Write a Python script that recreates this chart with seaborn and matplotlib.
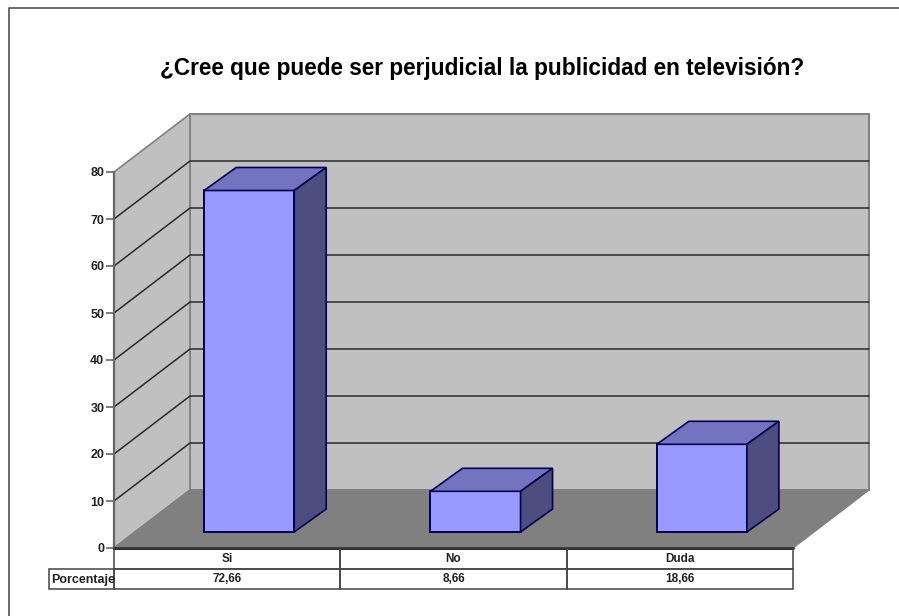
import matplotlib
matplotlib.use('Agg')
import matplotlib.pyplot as plt
import seaborn as sns
from matplotlib.patches import Polygon, Rectangle
from matplotlib.transforms import Affine2D

categories = ['Si', 'No', 'Duda']
valores = [72.66, 8.66, 18.66]
etiquetas = ['72,66', '8,66', '18,66']
ticks = [0, 10, 20, 30, 40, 50, 60, 70, 80]
titulo = '¿Cree que puede ser perjudicial la publicidad en televisión?'

W, H = 899, 616

sns.set_theme(style='white')
plt.rcParams['font.family'] = ['Liberation Sans', 'DejaVu Sans']

fig = plt.figure(figsize=(W / 100, H / 100), dpi=100, facecolor='white')
# front plane of the 3D box, in pixels
x0, x1, y0, y1 = 114, 793, 548, 172
ax = fig.add_axes([x0 / W, 1 - y0 / H, (x1 - x0) / W, (y0 - y1) / H])
ax.set_facecolor('none')

sns.barplot(x=categories, y=valores, width=0.398, color='#9999ff', saturation=1,
            edgecolor='#000050', linewidth=1.4, ax=ax, zorder=5)
ax.set_xlim(-0.5, 2.5)
ax.set_ylim(0, 80)
ax.set_xlabel('')
ax.set_ylabel('')
ax.set_xticks([])
ax.set_yticks(ticks)
ax.set_yticklabels([str(t) for t in ticks], fontsize=9, fontweight='bold', color='#222222')
ax.tick_params(axis='y', length=6, width=1.2, color='#666666', pad=1, left=True)
for s in ax.spines.values():
    s.set_visible(False)

base = ax.transData
wt = base + Affine2D().translate(76, 58)

# back wall, side wall and floor
ax.add_patch(Polygon([(-0.5, 0), (2.5, 0), (2.5, 80), (-0.5, 80)], closed=True, transform=wt,
                     facecolor='#c0c0c0', edgecolor='#808080', lw=1.4, zorder=1, clip_on=False))
side = [base.transform((-0.5, 0)), base.transform((-0.5, 80)),
        wt.transform((-0.5, 80)), wt.transform((-0.5, 0))]
ax.add_patch(Polygon(side, closed=True, transform=None, facecolor='#c0c0c0',
                     edgecolor='#808080', lw=1.2, zorder=1, clip_on=False))
floor = [base.transform((-0.5, 0)), base.transform((2.5, 0)),
         wt.transform((2.5, 0)), wt.transform((-0.5, 0))]
ax.add_patch(Polygon(floor, closed=True, transform=None, facecolor='#808080',
                     edgecolor='#808080', lw=1, zorder=2, clip_on=False))

# gridlines run along the side wall and the back wall
for t in ticks[1:-1]:
    a = base.transform((-0.5, t))
    b = wt.transform((-0.5, t))
    c = wt.transform((2.5, t))
    ax.plot([a[0], b[0], c[0]], [a[1], b[1], c[1]], transform=None, color='#2a2a2a', lw=1.1,
            zorder=3, clip_on=False)
ax.plot([-0.5, -0.5], [0, 80], color='#666666', lw=1.6, zorder=4, clip_on=False)
ax.plot([-0.5, 2.5], [0, 0], color='#111111', lw=2, zorder=4, clip_on=False)

# push bars back into the floor and add top and side faces
depth_dx, depth_dy = 32, 23
bt = base + Affine2D().translate(22, 16)
for bar in ax.containers[0]:
    bar.set_transform(bt)
    bar.set_clip_on(False)
    xa, xb = bar.get_x(), bar.get_x() + bar.get_width()
    top = bar.get_height()
    p1 = bt.transform((xa, top))
    p2 = bt.transform((xb, top))
    p3 = bt.transform((xb, 0))
    top_face = [p1, p2, p2 + (depth_dx, depth_dy), p1 + (depth_dx, depth_dy)]
    side_face = [p3, p2, p2 + (depth_dx, depth_dy), p3 + (depth_dx, depth_dy)]
    ax.add_patch(Polygon(top_face, closed=True, transform=None, facecolor='#7373bf',
                         edgecolor='#000050', lw=1.2, zorder=5, clip_on=False))
    ax.add_patch(Polygon(side_face, closed=True, transform=None, facecolor='#4d4d80',
                         edgecolor='#000050', lw=1.2, zorder=5, clip_on=False))

# data table under the plot
for i, (cat, lab) in enumerate(zip(categories, etiquetas)):
    for j, txt in enumerate([cat, lab]):
        yy = 548 + 20.5 * j
        xl = x0 + 226.33 * i
        fig.add_artist(Rectangle((xl / W, 1 - (yy + 20.5) / H), 226.33 / W, 20.5 / H,
                                 transform=fig.transFigure, facecolor='none',
                                 edgecolor='#444444', lw=1.1))
        fig.text((xl + 113.2) / W, 1 - (yy + 11) / H, txt, ha='center', va='center',
                 fontsize=8.5, fontweight='bold', color='#222222')
fig.add_artist(Rectangle((49 / W, 1 - 589 / H), 65 / W, 20 / H, transform=fig.transFigure,
                         facecolor='none', edgecolor='#444444', lw=1.1))
fig.text(51 / W, 1 - 580 / H, 'Porcentaje', ha='left', va='center', fontsize=9,
         fontweight='bold', color='#222222')

fig.text(482.5 / W, 1 - 68 / H, titulo, ha='center', va='center', fontsize=16.3,
         fontweight='bold', color='black')

# outer frame
fig.add_artist(plt.Line2D([9 / W, 9 / W, 1], [0, 1 - 8 / H, 1 - 8 / H],
                          transform=fig.transFigure, color='#444444', lw=1.1))

fig.savefig('out.png', dpi=100)
